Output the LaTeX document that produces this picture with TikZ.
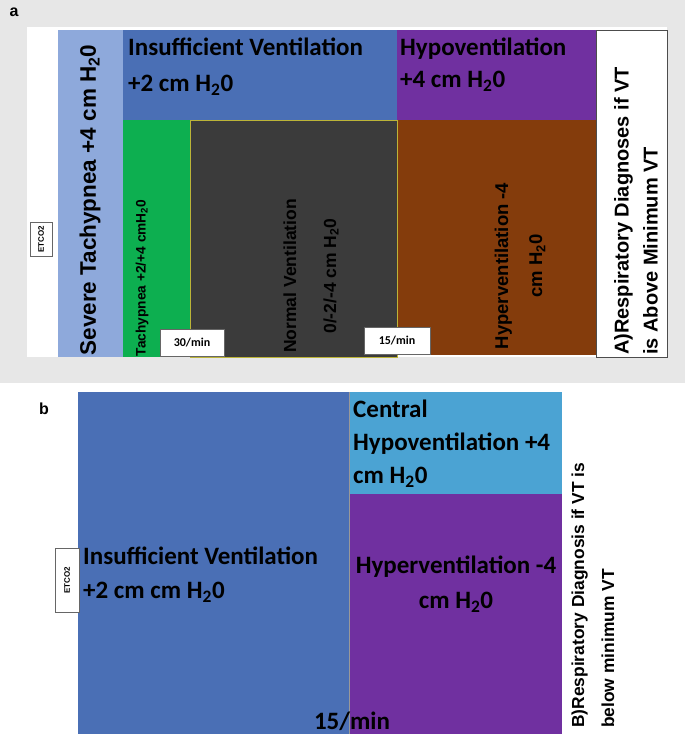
\documentclass[tikz,border=0pt]{standalone}
\usepackage{fontspec}
\setmainfont{Carlito}
\newfontfamily\arialbf{Liberation Sans}[BoldFont={* Bold}]
\usetikzlibrary{positioning}
\definecolor{bgGray}{HTML}{E7E7E7}
\definecolor{sevBlue}{HTML}{8EA9DB}
\definecolor{insBlue}{HTML}{4A6FB5}
\definecolor{hypPurple}{HTML}{7030A0}
\definecolor{tachGreen}{HTML}{0DAF50}
\definecolor{normDark}{HTML}{3B3B3B}
\definecolor{hypBrown}{HTML}{843C0C}
\definecolor{cenCyan}{HTML}{4BA3D3}
\newcommand{\hto}{H\textsubscript{2}0}

\begin{document}
\begin{tikzpicture}[x=1pt,y=-1pt,
label/.style={font=\fontsize{25}{32}\selectfont\bfseries,align=left,inner sep=0pt},
vlabel/.style={rotate=90,font=\arialbf\bfseries,inner sep=0pt},
tag/.style={draw=black!60,fill=white,font=\fontsize{12}{13}\selectfont\bfseries,inner sep=1pt}]
\useasboundingbox (0,0) rectangle (685,734);

%panel a
\fill[bgGray] (0,0) rectangle (685,383);
\fill[white] (27,27) rectangle (667,357);
\node[font=\arialbf\bfseries\fontsize{16}{16}\selectfont] (la) at (14,12) {a};
\fill[sevBlue] (58,30) rectangle (123,357);
\fill[insBlue] (123,30) rectangle (397,120);
\fill[hypPurple] (397,30) rectangle (596,120);
\fill[tachGreen] (123,120) rectangle (190,357);
\fill[normDark] (190,120) rectangle (397,357);
\fill[hypBrown] (397,120) rectangle (596,355);
\draw[black!70,fill=white] (596,30) rectangle (667,357);
\draw[yellow!70!black,thin] (190,120) rectangle (397,357);

\node[label,anchor=north west] (insA) at (128,38) {Insufficient Ventilation\\[4pt]+2 cm \hto};
\node[label,anchor=north west] (hypoA) at (400,38) {Hypoventilation\\+4 cm \hto};
\node[vlabel,font=\arialbf\bfseries\fontsize{22.5}{26}\selectfont] (sevA) at (90,200) {Severe Tachypnea +4 cm \hto};
\node[vlabel,font=\arialbf\bfseries\fontsize{13.7}{16}\selectfont] (tachA) at (142,278) {Tachypnea +2/+4 cmH\textsubscript{2}0};
\node[vlabel,align=center,font=\arialbf\bfseries\fontsize{17.5}{40}\selectfont] (normA) at (311,276) {Normal Ventilation\\0/-2/-4 cm \hto};
\node[vlabel,align=center,font=\arialbf\bfseries\fontsize{18.5}{34}\selectfont] (hyperA) at (520,266) {Hyperventilation -4\\cm \hto};
\node[vlabel,align=left,anchor=west,font=\arialbf\bfseries\fontsize{20}{29}\selectfont] (diagA) at (636,355) {A)Respiratory Diagnoses if VT\\is Above Minimum VT};
\node[tag,font=\arialbf\bfseries\fontsize{8}{9}\selectfont,rotate=90,minimum width=34pt,minimum height=22pt] (etA) at (41,239) {ETCO2};
\node[tag,minimum width=64pt,minimum height=27pt] (r30) at (192,343) {30/min};
\node[tag,minimum width=66pt,minimum height=27pt] (r15) at (397,341) {15/min};

%panel b
\node[font=\arialbf\bfseries\fontsize{16}{16}\selectfont] (lb) at (44,409) {b};
\fill[insBlue] (78,392) rectangle (349,734);
\fill[cenCyan] (349,392) rectangle (562,494);
\fill[hypPurple] (349,494) rectangle (562,734);
\draw[black!40,thin] (349,392) -- (349,734);
\node[label,anchor=north west,font=\fontsize{25}{33}\selectfont\bfseries] (cenB) at (353,400) {Central\\Hypoventilation +4\\cm \hto};
\node[label,anchor=west,font=\fontsize{25}{34}\selectfont\bfseries] (insB) at (83,575) {Insufficient Ventilation\\+2 cm cm \hto};
\node[label,align=center,font=\fontsize{25}{35}\selectfont\bfseries] (hyperB) at (456,584) {Hyperventilation -4\\cm \hto};
\node[label,anchor=base] (rb15) at (352,729) {15/min};
\node[vlabel,align=left,anchor=west,font=\arialbf\bfseries\fontsize{17.4}{30}\selectfont] (diagB) at (593,728) {B)Respiratory Diagnosis if VT is\\below minimum VT};
\node[tag,font=\arialbf\bfseries\fontsize{8}{9}\selectfont,rotate=90,minimum width=64pt,minimum height=24pt] (etB) at (67,580) {ETCO2};
\end{tikzpicture}
\end{document}
